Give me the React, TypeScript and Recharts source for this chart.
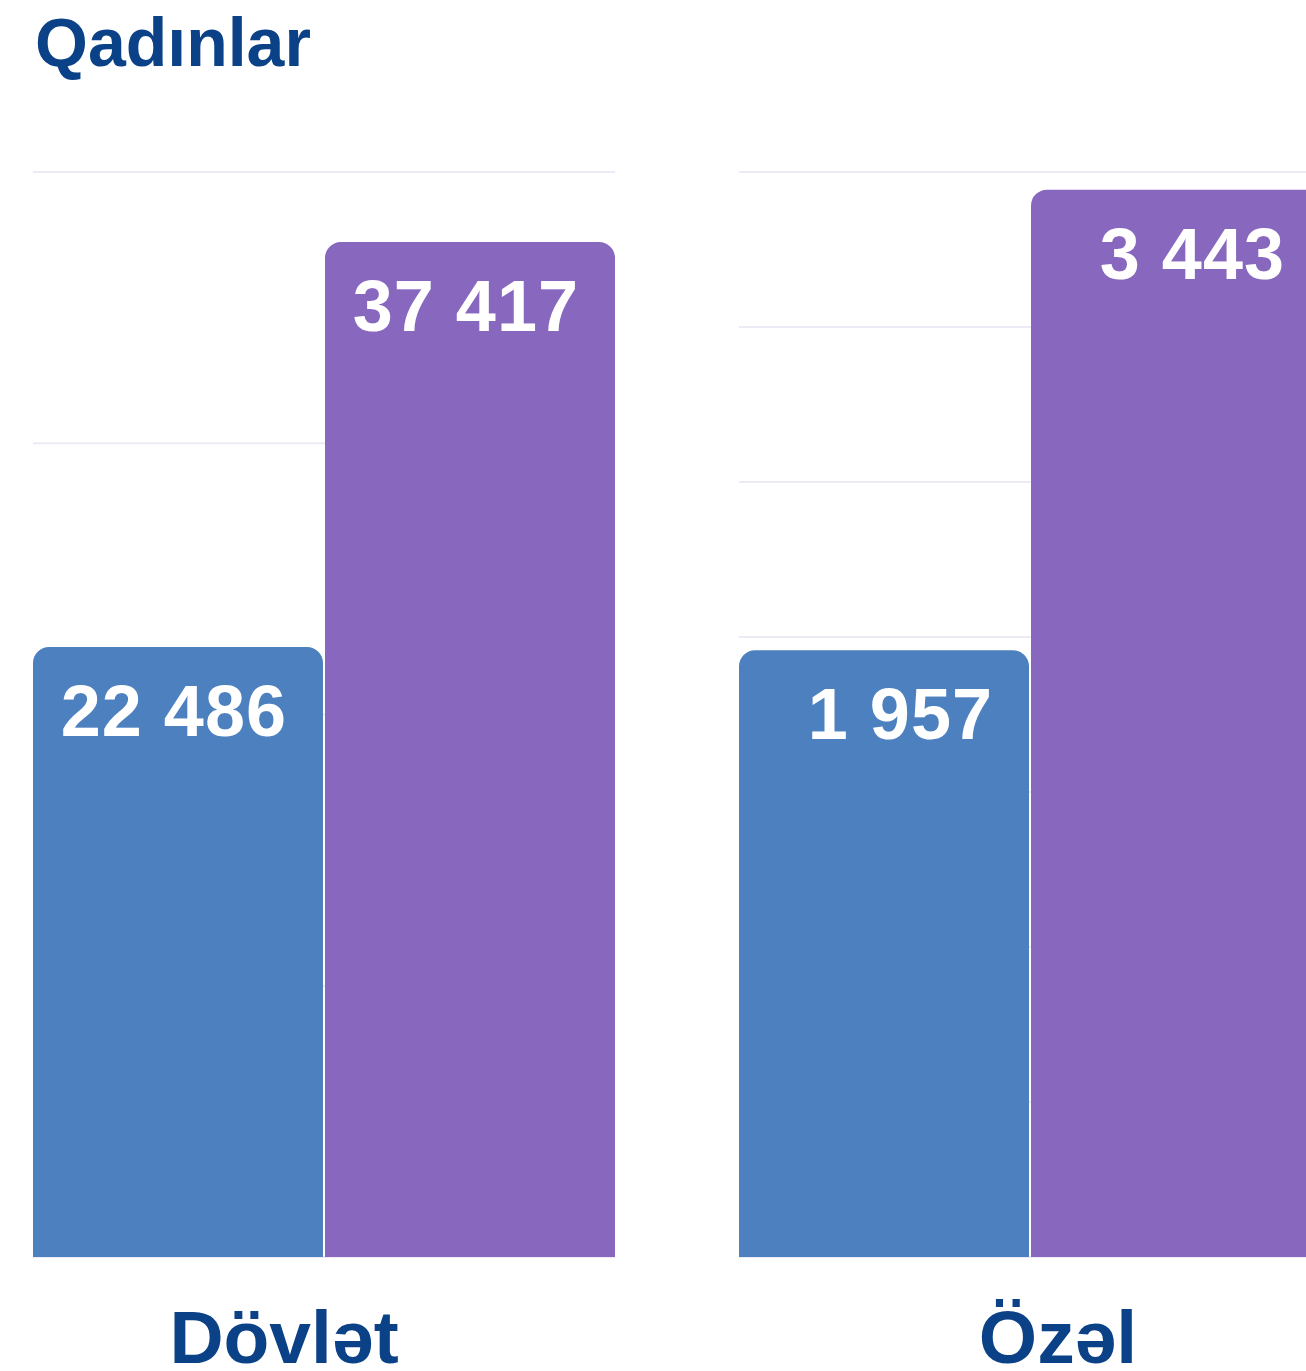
import { Bar, BarChart, CartesianGrid, LabelList, XAxis, YAxis } from "recharts";

const title = "Qadınlar";

// state / private sector
const categories = ["Dövlət", "Özəl"];
const blueValues = [22486, 1957];
const purpleValues = [37417, 3443];

const stateTicks = [0, 10000, 20000, 30000, 40000];
const privateTicks = [0, 500, 1000, 1500, 2000, 2500, 3000, 3500];

const FONT = "'Liberation Sans', Arial, sans-serif";
const BLUE = "#4c80bf";
const PURPLE = "#8867be";
const NAVY = "#0b4187";

const fmt = (v: number) => String(v).replace(/\B(?=(\d{3})+(?!\d))/g, " ");

function ValueLabel(props: any) {
  const { x, y, width, value } = props;
  return (
    <text
      x={x + width - 36}
      y={y + 89}
      textAnchor="end"
      fill="#fff"
      fontSize={72}
      fontWeight={700}
      fontFamily={FONT}
      letterSpacing={1}
    >
      {fmt(value)}
    </text>
  );
}

interface IPanel {
  index: number;
  ticks: number[];
  left: number;
  labelDx: number;
}

function Panel({ index, ticks, left, labelDx }: IPanel) {
  const data = [
    { name: categories[index], blue: blueValues[index], purple: purpleValues[index] },
  ];

  return (
    <div style={{ position: "absolute", left, top: 162 }}>
      <BarChart
        width={582}
        height={1209}
        data={data}
        margin={{ top: 10, right: 0, left: 0, bottom: 0 }}
        barCategoryGap={0}
        barGap={2}
      >
        <CartesianGrid vertical={false} stroke="#ecebf5" strokeWidth={2} />
        <YAxis hide domain={[0, ticks[ticks.length - 1]]} ticks={ticks} />
        <XAxis
          dataKey="name"
          height={114}
          axisLine={false}
          tickLine={false}
          tick={(p: any) => (
            <text
              x={p.x + labelDx}
              y={p.y + 98}
              textAnchor="middle"
              fill={NAVY}
              fontSize={75}
              fontWeight={700}
              fontFamily={FONT}
            >
              {p.payload.value}
            </text>
          )}
        />
        <Bar dataKey="blue" fill={BLUE} radius={[16, 16, 0, 0]} isAnimationActive={false}>
          <LabelList dataKey="blue" content={ValueLabel} />
        </Bar>
        <Bar dataKey="purple" fill={PURPLE} radius={[16, 16, 0, 0]} isAnimationActive={false}>
          <LabelList dataKey="purple" content={ValueLabel} />
        </Bar>
      </BarChart>
    </div>
  );
}

export default function App() {
  return (
    <div
      style={{
        position: "fixed",
        left: 0,
        top: 0,
        width: 1306,
        height: 1371,
        overflow: "hidden",
        background: "#fff",
      }}
    >
      <div
        style={{
          position: "absolute",
          left: 35,
          top: 4,
          fontFamily: FONT,
          fontWeight: 700,
          fontSize: 68,
          color: NAVY,
          lineHeight: "76px",
        }}
      >
        {title}
      </div>
      <Panel index={0} ticks={stateTicks} left={33} labelDx={-40} />
      <Panel index={1} ticks={privateTicks} left={739} labelDx={28} />
    </div>
  );
}
